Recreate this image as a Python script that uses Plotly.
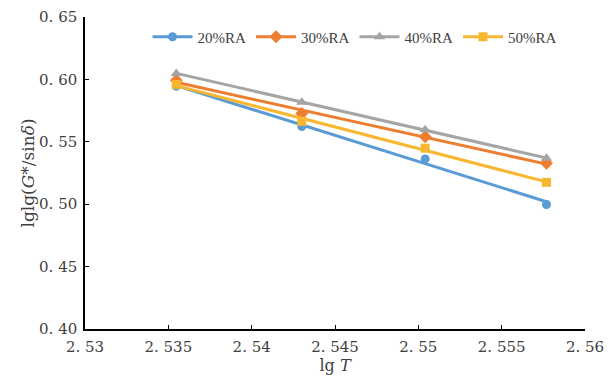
import numpy as np
import plotly.graph_objects as go

lgT = [2.53548, 2.54301, 2.55041, 2.55769]
series_names = ["20%RA", "30%RA", "40%RA", "50%RA"]
y20 = [0.5946, 0.5623, 0.5363, 0.4998]
y30 = [0.5994, 0.5726, 0.5540, 0.5328]
y40 = [0.6048, 0.5817, 0.5597, 0.5368]
y50 = [0.5960, 0.5664, 0.5449, 0.5175]
x_ticks = [2.53, 2.535, 2.54, 2.545, 2.55, 2.555, 2.56]
x_ticktext = ["2. 53", "2. 535", "2. 54", "2. 545", "2. 55", "2. 555", "2. 56"]
y_ticks = [0.40, 0.45, 0.50, 0.55, 0.60, 0.65]
y_ticktext = ["0. 40", "0. 45", "0. 50", "0. 55", "0. 60", "0. 65"]

colors = ["#5B9BD5", "#ED7D31", "#A5A5A5", "#F7B731"]
symbols = ["circle", "diamond", "triangle-up", "square"]
sizes = [9, 10, 10, 9]
font_family = "DejaVu Serif, Liberation Serif, serif"
legend_family = "Liberation Serif, DejaVu Serif, serif"
txt_color = "#404040"

fig = go.Figure()
x = np.array(lgT)
for name, ys, c, s, sz in zip(series_names, [y20, y30, y40, y50], colors, symbols, sizes):
    slope, inter = np.polyfit(x, np.array(ys), 1)
    xf = [x.min(), x.max()]
    fig.add_trace(go.Scatter(x=xf, y=[slope * v + inter for v in xf], mode="lines",
                             line=dict(color=c, width=3), showlegend=False, hoverinfo="skip"))
    fig.add_trace(go.Scatter(x=lgT, y=ys, mode="markers", marker=dict(color=c, symbol=s, size=sz),
                             showlegend=False))
    fig.add_trace(go.Scatter(x=[None], y=[None], mode="lines+markers", name=name,
                             line=dict(color=c, width=3), marker=dict(color=c, symbol=s, size=sz)))

axis_common = dict(showgrid=False, zeroline=False, showline=True, linecolor="black", linewidth=1.5,
                   ticks="inside", ticklen=4, tickcolor="black", mirror=False, automargin=False,
                   tickfont=dict(family=font_family, size=15, color=txt_color))

fig.update_layout(
    width=614, height=376,
    margin=dict(l=85, r=29, t=17, b=47),
    plot_bgcolor="white", paper_bgcolor="white",
    font=dict(family=font_family, color=txt_color),
    legend=dict(orientation="h", x=0.125, xanchor="left", y=0.936, yanchor="middle",
                font=dict(family=legend_family, size=15, color=txt_color),
                bgcolor="rgba(0,0,0,0)", itemwidth=40),
    xaxis=dict(range=[2.53, 2.56], tickvals=x_ticks, ticktext=x_ticktext, ticklabelstandoff=3,
               title=dict(text="lg <i>T</i>", font=dict(family=font_family, size=16, color=txt_color), standoff=4),
               **axis_common),
    yaxis=dict(range=[0.40, 0.65], tickvals=y_ticks, ticktext=y_ticktext, ticklabelstandoff=3,
               title=dict(text="lglg(<i>G</i>*/sin<i>δ</i>)", font=dict(family=font_family, size=17, color=txt_color), standoff=0),
               **axis_common),
)

fig.write_html("out.html")
